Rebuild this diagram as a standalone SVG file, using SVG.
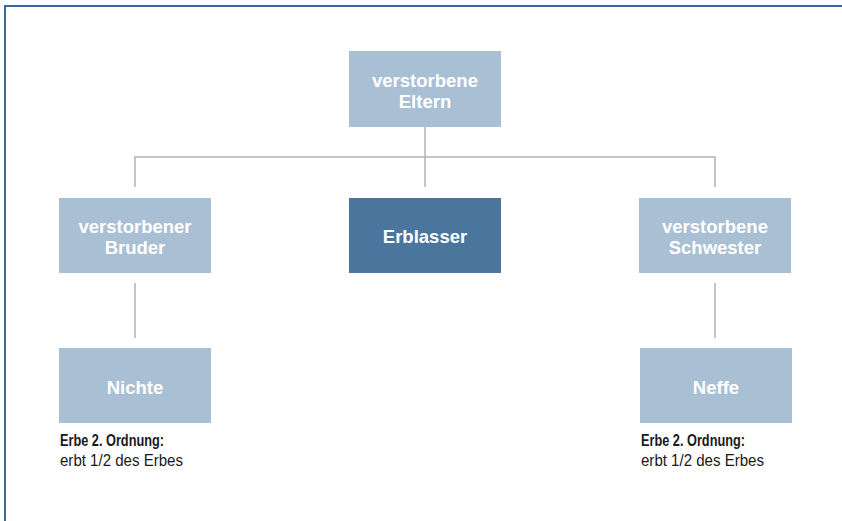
<svg xmlns="http://www.w3.org/2000/svg" width="842" height="521" viewBox="0 0 842 521">
  <style>
    .box-light { fill: #a9bfd3; }
    .box-dark { fill: #4a769e; }
    .label { font-family: "Liberation Sans", Arial, sans-serif; font-weight: bold; font-size: 18.5px; fill: #ffffff; text-anchor: middle; }
    .cap-b { font-family: "Liberation Sans", Arial, sans-serif; font-weight: bold; font-size: 16px; fill: #1a1a1a; }
    .cap { font-family: "Liberation Sans", Arial, sans-serif; font-size: 16px; fill: #1a1a1a; }
    .link { stroke: #b2b2b2; stroke-width: 1.5; fill: none; }
    .frame { stroke: #3b6b9b; stroke-width: 2; fill: none; }
  </style>
  <rect width="842" height="521" fill="#ffffff"/>
  <!-- frame -->
  <path class="frame" d="M5 521 V6 H842"/>

  <g id="connectors">
    <path class="link" d="M425 127 V187"/>
    <path class="link" d="M135 187 V157 H715 V187"/>
    <path class="link" d="M135 283 V338"/>
    <path class="link" d="M715 283 V338"/>
  </g>

  <g id="eltern">
    <rect class="box-light" x="349" y="51" width="152" height="76"/>
    <text class="label" x="425" y="86.5">verstorbene</text>
    <text class="label" x="425" y="108">Eltern</text>
  </g>

  <g id="bruder">
    <rect class="box-light" x="59" y="198" width="152" height="75"/>
    <text class="label" x="135" y="232.5">verstorbener</text>
    <text class="label" x="135" y="254">Bruder</text>
  </g>

  <g id="erblasser">
    <rect class="box-dark" x="349" y="198" width="152" height="75"/>
    <text class="label" x="425" y="243">Erblasser</text>
  </g>

  <g id="schwester">
    <rect class="box-light" x="639" y="198" width="152" height="75"/>
    <text class="label" x="715" y="232.5">verstorbene</text>
    <text class="label" x="715" y="254">Schwester</text>
  </g>

  <g id="nichte">
    <rect class="box-light" x="59" y="348" width="152" height="75"/>
    <text class="label" x="135" y="394">Nichte</text>
    <text class="cap-b" x="60" y="446" textLength="104" lengthAdjust="spacingAndGlyphs">Erbe 2. Ordnung:</text>
    <text class="cap" x="60" y="466" textLength="123" lengthAdjust="spacingAndGlyphs">erbt 1/2 des Erbes</text>
  </g>

  <g id="neffe">
    <rect class="box-light" x="640" y="348" width="152" height="75"/>
    <text class="label" x="716" y="394">Neffe</text>
    <text class="cap-b" x="641" y="446" textLength="104" lengthAdjust="spacingAndGlyphs">Erbe 2. Ordnung:</text>
    <text class="cap" x="641" y="466" textLength="123" lengthAdjust="spacingAndGlyphs">erbt 1/2 des Erbes</text>
  </g>
</svg>
